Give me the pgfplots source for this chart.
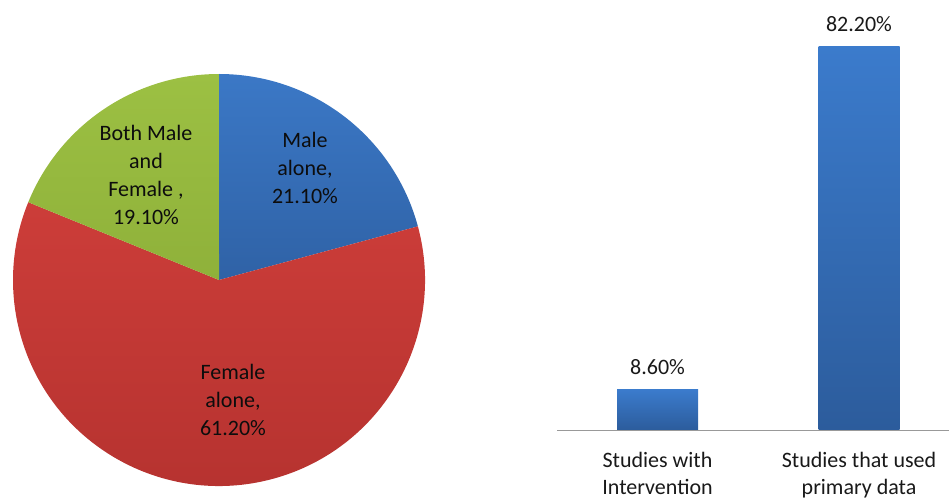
\documentclass[border=0pt]{standalone}
\usepackage{pgfplots}
\pgfplotsset{compat=1.18}
\usepackage{fontspec}
\setmainfont{Carlito}
\definecolor{pieBlueT}{HTML}{3B78C6}
\definecolor{pieBlueB}{HTML}{2F62A6}
\definecolor{pieRedT}{HTML}{CC3D39}
\definecolor{pieRedB}{HTML}{B5322F}
\definecolor{pieGreenT}{HTML}{9CC043}
\definecolor{pieGreenB}{HTML}{8FB13A}
\definecolor{barT}{HTML}{3B7BCC}
\definecolor{barB}{HTML}{2C5C9C}
\begin{document}
\begin{tikzpicture}
\useasboundingbox (0,0) rectangle (949bp,499bp);
% pie data (percent, as labelled; slices are drawn in proportion to their sum)
\pgfmathsetmacro{\pMale}{21.1}
\pgfmathsetmacro{\pFemale}{61.2}
\pgfmathsetmacro{\pBoth}{19.1}
\pgfmathsetmacro{\pTot}{\pMale+\pFemale+\pBoth}
\pgfmathsetmacro{\aA}{90}
\pgfmathsetmacro{\aB}{90-360*(\pMale/\pTot)}
\pgfmathsetmacro{\aC}{\aB-360*(\pFemale/\pTot)}
\pgfmathsetmacro{\aD}{\aC-360*(\pBoth/\pTot)}
\begin{axis}[
  at={(219bp,219bp)}, anchor=center,
  scale only axis, width=412bp, height=412bp,
  xmin=-206, xmax=206, ymin=-206, ymax=206,
  hide axis, clip=false]
  \path[top color=pieBlueT, bottom color=pieBlueB]
    (axis cs:0,0) -- ++(\aA:206bp) arc[start angle=\aA, end angle=\aB, radius=206bp] -- cycle;
  \path[top color=pieRedT, bottom color=pieRedB]
    (axis cs:0,0) -- ++(\aB:206bp) arc[start angle=\aB, end angle=\aC, radius=206bp] -- cycle;
  \path[top color=pieGreenT, bottom color=pieGreenB]
    (axis cs:0,0) -- ++(\aC:206bp) arc[start angle=\aC, end angle=\aD, radius=206bp] -- cycle;
  \begin{scope}[every node/.style={align=center, text=black!95, font=\fontsize{22bp}{28bp}\selectfont, inner sep=0pt}]
  \node at (axis cs:86,112) {Male\\alone,\\21.10\%};
  \node at (axis cs:-73,105) {Both Male\\and\\Female ,\\19.10\%};
  \node at (axis cs:14,-120) {Female\\alone,\\61.20\%};
  \end{scope}
\end{axis}
% bar chart
\begin{axis}[
  at={(557bp,69bp)}, anchor=south west,
  scale only axis, width=392bp, height=419.4bp,
  xmin=-0.4988, xmax=1.4466, ymin=0, ymax=90,
  axis x line*=bottom, axis y line=none,
  x axis line style={draw=gray!80, line width=1pt, -},
  xtick={0,1}, xticklabels={Studies with\\Intervention, Studies that used\\primary data},
  major tick length=0pt,
  xticklabel style={align=center, text=black!90, font=\fontsize{22bp}{27bp}\selectfont, yshift=-19bp},
  ytick=\empty,
  ybar, bar width=81bp, bar shift=0pt,
  /pgf/number format/assume math mode=true,
  nodes near coords={\pgfmathprintnumber[fixed, fixed zerofill, precision=2, assume math mode=true]{\pgfplotspointmeta}\%},
  every node near coord/.append style={text=black!90, font=\fontsize{22bp}{27bp}\selectfont, yshift=12bp},
  clip=false]
  \addplot[draw=none, top color=barT, bottom color=barB] coordinates {(0,8.6)};
  \addplot[draw=none, top color=barT, bottom color=barB] coordinates {(1,82.2)};
\end{axis}
\end{tikzpicture}
\end{document}
